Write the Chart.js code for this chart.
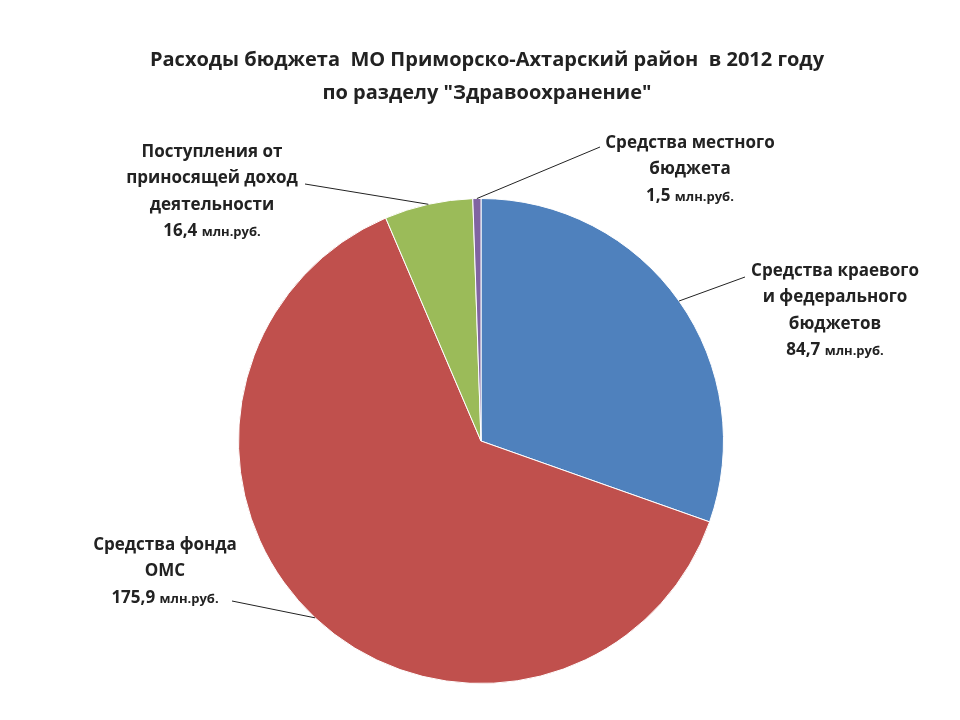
<!DOCTYPE html>
<html><head><meta charset="utf-8">
<script src="https://cdn.jsdelivr.net/npm/chart.js@4"></script>
<style>html,body{margin:0;background:#fff}#w{width:960px;height:720px}</style>
</head><body><div id="w"><canvas id="c"></canvas></div>
<script>
const categories = ["Средства краевого и федерального бюджетов","Средства фонда ОМС","Поступления от приносящей доход деятельности","Средства местного бюджета"];
const values = [84.7, 175.9, 16.4, 1.5];
const colors = ["#4F81BD","#C0504D","#9BBB59","#8064A2"];
const labelLines = [
  ["Средства краевого","и федерального","бюджетов"],
  ["Средства фонда","ОМС"],
  ["Поступления от","приносящей доход","деятельности"],
  ["Средства местного","бюджета"]
];
const labelPos = [ {x:835,y:271,lx:745,ly:277}, {x:165,y:545,lx:232,ly:601}, {x:212,y:152,lx:305,ly:184}, {x:690,y:143,lx:600,ly:147} ];
const titleLines = ["Расходы бюджета  МО Приморско-Ахтарский район  в 2012 году","по разделу \"Здравоохранение\""];

const FONT = "'Open Sans', 'DejaVu Sans', sans-serif";
const plugin = {
  id:'lbl',
  afterDraw(chart){
    const ctx = chart.ctx; ctx.save();
    ctx.fillStyle='#222'; ctx.textAlign='center'; ctx.textBaseline='middle';
    ctx.font = "bold 20px "+FONT;
    ctx.fillText(titleLines[0],487,60); ctx.fillText(titleLines[1],487,93);
    const meta = chart.getDatasetMeta(0);
    meta.data.forEach((arc,i)=>{
      const p = labelPos[i];
      const mid=(arc.startAngle+arc.endAngle)/2;
      const ax=arc.x+Math.cos(mid)*arc.outerRadius, ay=arc.y+Math.sin(mid)*arc.outerRadius;
      ctx.strokeStyle='#222'; ctx.lineWidth=1; ctx.beginPath(); ctx.moveTo(ax,ay); ctx.lineTo(p.lx,p.ly); ctx.stroke();
      ctx.font="bold 17px "+FONT; ctx.textAlign='center';
      const lines=labelLines[i];
      lines.forEach((t,k)=>ctx.fillText(t,p.x,p.y+k*26.5));
      const y=p.y+lines.length*26.5;
      const num=values[i].toFixed(1).replace('.',',')+' ', unit='млн.руб.';
      ctx.font="bold 17px "+FONT; const w1=ctx.measureText(num).width;
      ctx.font="bold 13px "+FONT; const w2=ctx.measureText(unit).width;
      let x0=p.x-(w1+w2)/2; ctx.textAlign='left';
      ctx.font="bold 17px "+FONT; ctx.fillText(num,x0,y);
      ctx.font="bold 13px "+FONT; ctx.fillText(unit,x0+w1,y+1);
    });
    ctx.restore();
  }
};
new Chart(document.getElementById('c'),{
  type:'pie',
  data:{labels:categories,datasets:[{data:values,backgroundColor:colors,borderColor:'#fff',borderWidth:1}]},
  options:{responsive:true,maintainAspectRatio:false,animation:false,
    layout:{padding:{top:198,bottom:36,left:238,right:236}},
    plugins:{legend:{display:false},tooltip:{enabled:false},title:{display:false}}},
  plugins:[plugin]
});
</script></body></html>
